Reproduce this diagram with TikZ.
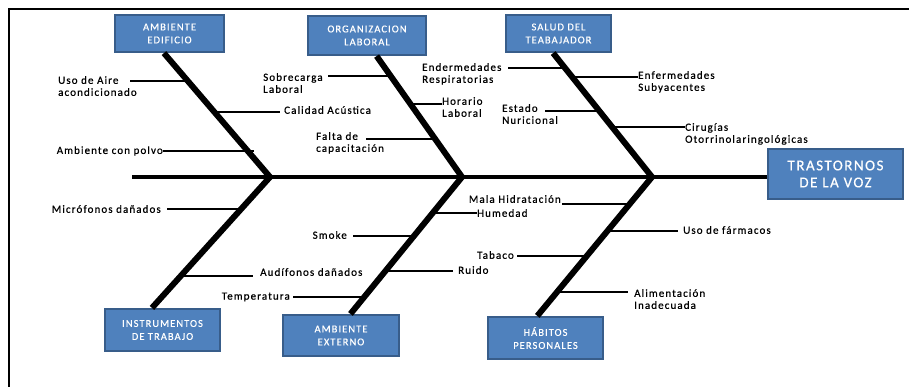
\documentclass[tikz,border=0pt]{standalone}
\usepackage{fontspec}
\usetikzlibrary{calc}
\setmainfont{Carlito}
\newfontfamily\lblfont{Carlito}[LetterSpace=10,FakeBold=0.6]
\newfontfamily\boxfont{Carlito}[LetterSpace=10,FakeBold=0.5]
\definecolor{boxfill}{HTML}{4F81BD}
\definecolor{boxline}{HTML}{385D8A}
\begin{document}
\begin{tikzpicture}[x=1pt,y=-1pt,
  catbox/.style={draw=boxline,line width=2.2pt,fill=boxfill,text=white,align=center,
    font=\boxfont\fontsize{10.5}{13}\selectfont,inner sep=0pt},
  lbl/.style={font=\lblfont\fontsize{11}{12}\selectfont,inner sep=0pt,align=left,text=black},
  lblw/.style={lbl,anchor=west},
  lblnw/.style={lbl,anchor=north west},
  lble/.style={lbl,anchor=east},
  spine/.style={line width=4pt},
  bone/.style={line width=6pt},
  twig/.style={line width=2.6pt},
  frame/.style={line width=1.5pt}]
\useasboundingbox (0,0) rectangle (909,387);
% frame
\coordinate (fbl) at (9,387);
\coordinate (ftl) at (9,9);
\coordinate (ftr) at (909,9);
\draw[frame] (fbl) -- (ftl) -- (ftr);

% category boxes
\node[catbox,minimum width=109pt,minimum height=37pt] (edif) at (169.5,33.5) {AMBIENTE\\EDIFICIO};
\node[catbox,minimum width=118pt,minimum height=39pt] (org) at (367,35.5) {ORGANIZACION\\LABORAL};
\node[catbox,minimum width=105pt,minimum height=37pt] (salud) at (558.5,33.5) {SALUD DEL\\TEABAJADOR};
\node[catbox,minimum width=135pt,minimum height=50pt,font=\boxfont\fontsize{15}{17}\selectfont] (tras) at (835.5,174) {TRASTORNOS\\DE LA VOZ};
\node[catbox,minimum width=115pt,minimum height=42pt] (instr) at (162.5,330) {INSTRUMENTOS\\DE TRABAJO};
\node[catbox,minimum width=116pt,minimum height=41pt] (ext) at (341,335.5) {AMBIENTE\\EXTERNO};
\node[catbox,minimum width=115pt,minimum height=42pt] (hab) at (545.5,338) {HÁBITOS\\PERSONALES};

% spine and junctions
\coordinate (tail) at (132,177);
\coordinate (j1) at (270,177);
\coordinate (j2) at (462,177);
\coordinate (j3) at (652,177);
\draw[spine] (tail) -- (tail -| tras.west);

% bones
\draw[bone] (j1) -- ($(edif.south west)!0.45!(edif.south east)$);
\draw[bone] (j2) -- ($(org.south west)!0.58!(org.south east)$);
\draw[bone] (j3) -- ($(salud.south west)!0.45!(salud.south east)$);
\draw[bone] (j1) -- ($(instr.north west)!0.41!(instr.north east)$);
\draw[bone] (j2) -- ($(ext.north west)!0.58!(ext.north east)$);
\draw[bone] (j3) -- ($(hab.north west)!0.43!(hab.north east)$);

% --- labels ---
\node[lblnw] (l1) at (58,76) {Uso de Aire\\acondicionado};
\node[lblw] (l2) at (284,110) {Calidad Acústica};
\node[lble] (l3) at (163,151) {Ambiente con polvo};
\node[lblnw] (l4) at (263,73) {Sobrecarga\\Laboral};
\node[lblnw] (l5) at (442,97) {Horario\\Laboral};
\node[lblnw] (l6) at (316,132) {Falta de\\capacitación};
\node[lblnw] (l7) at (422,63) {Endermedades\\Respiratorias};
\node[lblnw] (l8) at (638,71) {Enfermedades\\Subyacentes};
\node[lblnw] (l9) at (502,104) {Estado\\Nuricional};
\node[lblnw] (l10) at (685,123) {Cirugías\\Otorrinolaringológicas};
\node[lble] (l11) at (161,209) {Micrófonos dañados};
\node[lblw] (l12) at (260,272) {Audífonos dañados};
\node[lble] (l13) at (290,297) {Temperatura};
\node[lblw] (l14) at (477,213) {Humedad};
\node[lble] (l15) at (347,235) {Smoke};
\node[lblw] (l16) at (458,270) {Ruido};
\node[lble] (l17) at (561,199) {Mala Hidratación};
\node[lblw] (l18) at (683,230) {Uso de fármacos};
\node[lble] (l19) at (514,255) {Tabaco};
\node[lblnw] (l20) at (634,289) {Alimentación\\Inadecuada};

% --- twigs (sub-causes) ---
\coordinate (t1a) at (130,81);  \coordinate (t1b) at (189,81);
\coordinate (t2a) at (215,112); \coordinate (t2b) at (280,112);
\coordinate (t3a) at (163,151); \coordinate (t3b) at (254,151);
\coordinate (t4a) at (328,76);  \coordinate (t4b) at (392,76);
\coordinate (t5a) at (411,104); \coordinate (t5b) at (442,104);
\coordinate (t6a) at (366,139); \coordinate (t6b) at (436,139);
\coordinate (t7a) at (508,68);  \coordinate (t7b) at (566,68);
\coordinate (t8a) at (573,77);  \coordinate (t8b) at (638,77);
\coordinate (t9a) at (545,111); \coordinate (t9b) at (600,111);
\coordinate (t10a) at (612,127); \coordinate (t10b) at (685,127);
\coordinate (t11a) at (167,209); \coordinate (t11b) at (241,209);
\coordinate (t12a) at (181,276); \coordinate (t12b) at (253,276);
\coordinate (t13a) at (293,297); \coordinate (t13b) at (363,297);
\coordinate (t14a) at (432,213); \coordinate (t14b) at (477,213);
\coordinate (t15a) at (353,236); \coordinate (t15b) at (413,236);
\coordinate (t16a) at (385,271); \coordinate (t16b) at (453,271);
\coordinate (t17a) at (562,204); \coordinate (t17b) at (630,204);
\coordinate (t18a) at (608,231); \coordinate (t18b) at (678,231);
\coordinate (t19a) at (517,256); \coordinate (t19b) at (587,256);
\coordinate (t20a) at (557,292); \coordinate (t20b) at (628,292);
\foreach \i in {1,...,20}{\draw[twig] (t\i a) -- (t\i b);}
\end{tikzpicture}
\end{document}
